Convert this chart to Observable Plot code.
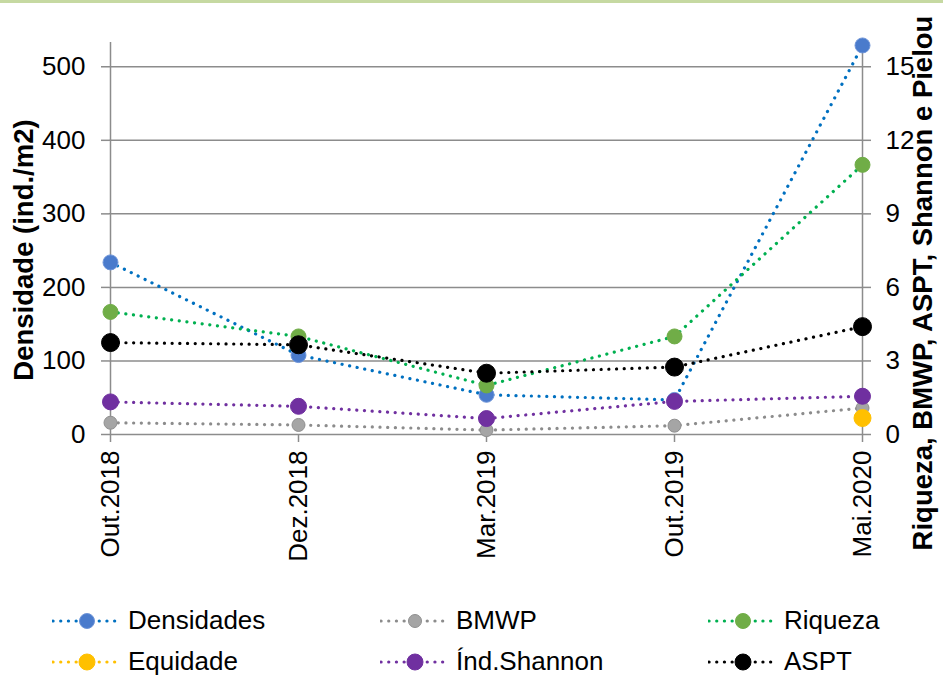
<!DOCTYPE html>
<html>
<head>
<meta charset="utf-8">
<script src="https://cdn.jsdelivr.net/npm/d3@7"></script>
<script src="https://cdn.jsdelivr.net/npm/@observablehq/plot@0.6"></script>
<style>
  html, body { margin: 0; padding: 0; background: #fff; }
  #wrap { position: relative; width: 943px; height: 675px; overflow: hidden; font-family: Arial, "Liberation Sans", sans-serif; }
  #topbar { position: absolute; left: 0; top: 0; width: 943px; height: 3px; background: #c6d9a2; }
  #chart { position: absolute; left: 0; top: 0; }
  #legend { position: absolute; left: 52px; top: 600px; display: grid; grid-template-columns: 328px 328px 260px; grid-auto-rows: 41px; }
  .item { display: flex; align-items: center; font-size: 26px; color: #000; white-space: nowrap; }
  .item svg { margin-right: 6px; flex: none; }
</style>
</head>
<body>
<div id="wrap">
  <div id="chart"></div>
  <div id="topbar"></div>
  <div id="legend"></div>
</div>
<script>
// ---- data ----
const categories = ["Out.2018", "Dez.2018", "Mar.2019", "Out.2019", "Mai.2020"];
// primary (left) axis series
const densidades = [234, 108, 54, 47, 529];
const bmwp = [16, 13, 6, 12, 36];
// secondary (right) axis series
const riqueza = [5, 4, 2, 4, 11];
const equidade = [null, null, null, null, 0.67];
const shannon = [1.33, 1.15, 0.65, 1.35, 1.56];
const aspt = [3.75, 3.66, 2.5, 2.75, 4.4];

const leftTicks = [0, 100, 200, 300, 400, 500];
const rightTicks = [0, 3, 6, 9, 12, 15];

const seriesNames = ["Densidades", "BMWP", "Riqueza", "Equidade", "Índ.Shannon", "ASPT"];
const seriesValues = [densidades, bmwp, riqueza, equidade, shannon, aspt];
const seriesAxis = ["left", "left", "right", "right", "right", "right"];
const lineColors = ["#0070c0", "#8c8c8c", "#00b050", "#ffc000", "#7030a0", "#000000"];
const markerColors = ["#4a7bcc", "#a5a5a5", "#70ad47", "#ffc000", "#7030a0", "#000000"];
const markerRadius = [7.5, 6.5, 7.5, 8.5, 8, 9];
const markerStroke = ["#6f95d8", "#8f8f8f", "#70ad47", "#ffc000", "#7030a0", "#000000"];

const k = 100 / 3; // right-axis unit in left-axis units
const gridColor = "#8c8c8c";

const marks = [
  Plot.gridY(leftTicks, {stroke: gridColor, strokeOpacity: 1, strokeWidth: 1.5}),
  Plot.ruleX([categories[0], categories[categories.length - 1]], {stroke: gridColor, strokeWidth: 1.5}),
  Plot.axisY(leftTicks, {anchor: "left", tickSize: 8, tickPadding: 16, stroke: gridColor, strokeWidth: 1.5, fill: "#000", fontSize: 26, label: null}),
  Plot.axisY(rightTicks.map(v => v * k), {anchor: "right", tickSize: 8, tickPadding: 15, stroke: gridColor, strokeWidth: 1.5, fill: "#000", fontSize: 26, tickFormat: d => String(Math.round(d / k)), label: null}),
  Plot.axisX({anchor: "bottom", tickRotate: -90, tickSize: 8, tickPadding: 8, stroke: gridColor, strokeWidth: 1.5, fill: "#000", fontSize: 26, label: null})
];

seriesValues.forEach((vals, i) => {
  const f = seriesAxis[i] === "right" ? k : 1;
  const data = categories.map((c, j) => ({cat: c, v: vals[j] == null ? null : vals[j] * f}));
  marks.push(Plot.line(data, {x: "cat", y: "v", stroke: lineColors[i], strokeWidth: 3.2, strokeDasharray: "0.1 7.6", strokeLinecap: "round", curve: "linear"}));
  marks.push(Plot.dot(data.filter(d => d.v != null), {x: "cat", y: "v", r: markerRadius[i], fill: markerColors[i], stroke: markerStroke[i], strokeWidth: 1}));
});

const chart = Plot.plot({
  width: 943,
  height: 600,
  marginTop: 42,
  marginBottom: 166,
  marginLeft: 109,
  marginRight: 81,
  style: {fontFamily: "Arial, 'Liberation Sans', sans-serif", fontSize: "26px", background: "transparent", color: "#000"},
  x: {type: "point", domain: categories, padding: 0},
  y: {domain: [0, 533]},
  marks
});

const svg = d3.select(chart);
svg.append("text")
  .attr("transform", "translate(33,250) rotate(-90)")
  .attr("text-anchor", "middle")
  .style("font-weight", "bold").style("font-size", "27.5px").attr("fill", "#000")
  .text("Densidade (ind./m2)");
svg.append("text")
  .attr("transform", "translate(932,283) rotate(-90)")
  .attr("text-anchor", "middle")
  .style("font-weight", "bold").style("font-size", "27.5px").attr("fill", "#000")
  .text("Riqueza, BMWP, ASPT, Shannon e Pielou");

document.getElementById("chart").appendChild(chart);

// legend (row-major, 3 columns)
const legend = d3.select("#legend");
seriesNames.forEach((name, i) => {
  const item = legend.append("div").attr("class", "item");
  const s = item.append("svg").attr("width", 70).attr("height", 22);
  s.append("line").attr("x1", 1).attr("x2", 68).attr("y1", 11).attr("y2", 11)
    .attr("stroke", lineColors[i]).attr("stroke-width", 3.2)
    .attr("stroke-dasharray", "0.1 7.6").attr("stroke-linecap", "round");
  s.append("circle").attr("cx", 35).attr("cy", 11).attr("r", Math.min(markerRadius[i], 8))
    .attr("fill", markerColors[i]).attr("stroke", markerStroke[i]);
  item.append("span").text(name);
});
</script>
</body>
</html>
